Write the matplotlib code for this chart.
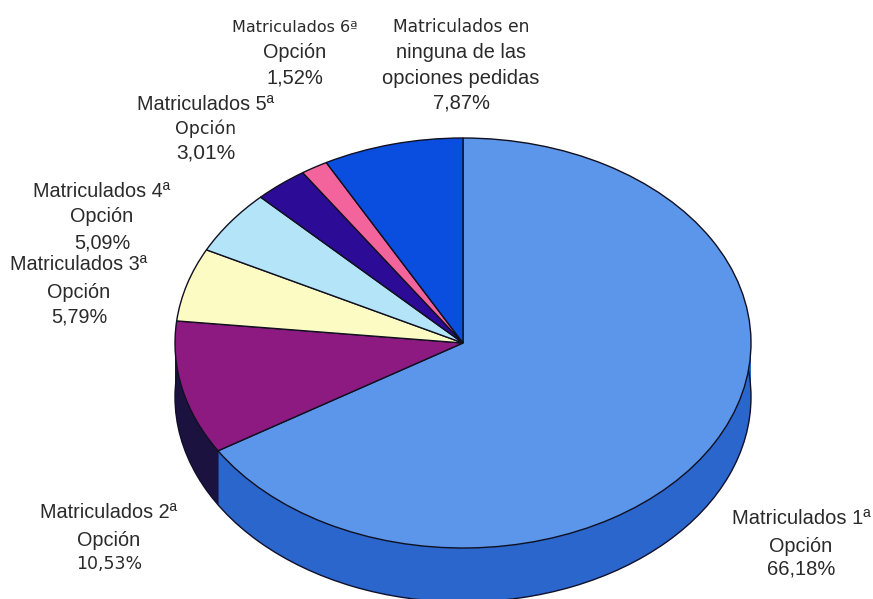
import matplotlib
matplotlib.use("Agg")
import matplotlib.pyplot as plt

# Datos
categorias = ["Matriculados 1ª Opción", "Matriculados 2ª Opción", "Matriculados 3ª Opción",
              "Matriculados 4ª Opción", "Matriculados 5ª Opción", "Matriculados 6ª Opción",
              "Matriculados en ninguna de las opciones pedidas"]
valores = [66.18, 10.53, 5.79, 5.09, 3.01, 1.52, 7.87]
colores = ["#5c96ea", "#8c1a80", "#fdfbc4", "#b4e4f8", "#2c0c96", "#f4649c", "#0a4ee0"]
colores_lado = ["#2a66cc", "#1c1240", "#b0ae88", "#7ea0ae", "#1e0868", "#aa466e", "#0736a0"]

W, H = 873, 599
CX, CY = 463, 343      # centro de la elipse en pixeles
RX, RY = 288, 205      # radios
PROFUNDIDAD = 54

ARIAL = "Liberation Sans"
ANCHA = "DejaVu Sans"   # lineas mas bajas y anchas del escaneado

fig = plt.figure(figsize=(W / 100, H / 100), dpi=100)
ax = fig.add_axes([0, 0, 1, 1])

# Lateral: la misma tarta repetida hacia abajo
for d in range(PROFUNDIDAD, 0, -1):
    ax.pie(valores, colors=colores_lado, startangle=90, counterclock=False,
           center=(0, -d / RY), radius=1, frame=False,
           wedgeprops={"linewidth": 0})

# Borde exterior del lateral
ax.pie([1], colors=["none"], center=(0, -PROFUNDIDAD / RY), radius=1, frame=False,
       wedgeprops={"linewidth": 1.0, "edgecolor": "#10102a", "zorder": 1})

# Tapa
ax.pie(valores, colors=colores, startangle=90, counterclock=False, radius=1, frame=False,
       wedgeprops={"linewidth": 1.0, "edgecolor": "#101020", "zorder": 5})

ax.set_aspect("auto")
ax.set_xlim(-CX / RX, (W - CX) / RX)
ax.set_ylim(-(H - CY) / RY, CY / RY)
ax.axis("off")


def etiqueta(x, y, lineas, estilos):
    # x, y en pixeles de la imagen
    for i, (t, (fam, s)) in enumerate(zip(lineas, estilos)):
        fig.text(x / W, 1 - (y[i]) / H, t, ha="center", va="center", fontsize=s,
                 family=fam, color="#2a2a2a")


etiqueta(295, (28, 53, 78), ["Matriculados 6ª", "Opción", "1,52%"],
         ((ANCHA, 11.5), (ARIAL, 14.3), (ARIAL, 14.5)))
etiqueta(461, (27, 52, 78, 103), ["Matriculados en", "ninguna de las", "opciones pedidas", "7,87%"],
         ((ANCHA, 12.3), (ARIAL, 14.3), (ARIAL, 14.5), (ARIAL, 14.5)))
etiqueta(206, (105, 129, 153), ["Matriculados 5ª", "Opción", "3,01%"],
         ((ARIAL, 14.3), (ANCHA, 12.5), (ARIAL, 15)))
etiqueta(102, (191, 217, 243), ["Matriculados 4ª", "Opción", "5,09%"],
         ((ARIAL, 14.3), (ARIAL, 14.3), (ARIAL, 14.3)))
etiqueta(79, (265, 292, 317), ["Matriculados 3ª", "Opción", "5,79%"],
         ((ARIAL, 14.3), (ARIAL, 14.3), (ARIAL, 14.3)))
etiqueta(109, (512, 540, 564), ["Matriculados 2ª", "Opción", "10,53%"],
         ((ARIAL, 14.3), (ARIAL, 14.3), (ANCHA, 12.5)))
etiqueta(801, (519, 546, 569), ["Matriculados 1ª", "Opción", "66,18%"],
         ((ARIAL, 14.5), (ARIAL, 14.3), (ARIAL, 14.5)))

fig.savefig("out.png", dpi=100)
